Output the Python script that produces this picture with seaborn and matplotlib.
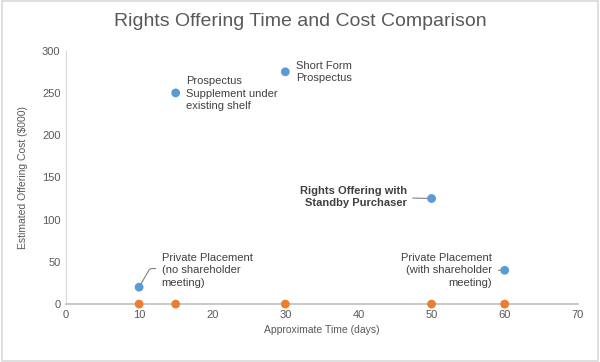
import numpy as np
import pandas as pd
import matplotlib
matplotlib.use("Agg")
import matplotlib.pyplot as plt
import seaborn as sns

# chart data
days = [10, 15, 30, 50, 60]
cost = [20, 250, 275, 125, 40]
base = [0, 0, 0, 0, 0]
labels = [
    "Private Placement\n(no shareholder\nmeeting)",
    "Prospectus\nSupplement under\nexisting shelf",
    "Short Form\nProspectus",
    "Rights Offering with\nStandby Purchaser",
    "Private Placement\n(with shareholder\nmeeting)",
]

df = pd.DataFrame({"days": days, "cost": cost, "base": base, "label": labels})

sns.set_style("white")
plt.rcParams["font.family"] = ["Liberation Sans", "DejaVu Sans"]

fig = plt.figure(figsize=(6, 3.62), dpi=100)
ax = fig.add_axes([0.11, 0.16, 0.853, 0.70])

sns.scatterplot(data=df, x="days", y="base", ax=ax, color="#ED7D31", s=40,
                edgecolor="none", zorder=3, clip_on=False)
sns.scatterplot(data=df, x="days", y="cost", ax=ax, color="#5B9BD5", s=40,
                edgecolor="none", zorder=3, clip_on=False)

ax.set_xlim(0, 70)
ax.set_ylim(0, 300)
ax.set_xticks(np.arange(0, 71, 10))
ax.set_yticks(np.arange(0, 301, 50))
ax.tick_params(axis="both", length=0, labelsize=8, labelcolor="#595959", pad=4)

for s in ["top", "right"]:
    ax.spines[s].set_visible(False)
ax.spines["left"].set_color("#D9D9D9")
ax.spines["bottom"].set_color("#BFBFBF")
ax.spines["bottom"].set_linewidth(1.2)

ax.set_xlabel("Approximate Time (days)", fontsize=7.5, color="#595959")
ax.set_ylabel("Estimated Offering Cost ($000)", fontsize=7.5, color="#595959",
              labelpad=10)
fig.suptitle("Rights Offering Time and Cost Comparison", fontsize=14,
             color="#595959", y=0.965)

txt = dict(fontsize=8, color="#404040", va="center", linespacing=1.3)
lead = dict(arrowstyle="-", color="#808080", lw=0.8, shrinkA=2, shrinkB=3)

# annotations
ax.annotate(df.label[0], xy=(df.days[0], df.cost[0]), xytext=(13.1, 40),
            ha="left",
            arrowprops=dict(lead, relpos=(0, 0.55),
                            connectionstyle="angle,angleA=180,angleB=60,rad=2"),
            **txt)
ax.annotate(df.label[1], xy=(df.days[1], df.cost[1]), xytext=(16.4, 249),
            ha="left", **txt)
ax.annotate(df.label[2], xy=(df.days[2], df.cost[2]), xytext=(31.5, 275),
            ha="left", **txt)
ax.annotate(df.label[3], xy=(df.days[3], df.cost[3]), xytext=(46.6, 127),
            ha="right", fontweight="bold",
            arrowprops=dict(lead, relpos=(1, 0.45)), **txt)
ax.annotate(df.label[4], xy=(df.days[4], df.cost[4]), xytext=(58.3, 40),
            ha="right", arrowprops=dict(lead, relpos=(1, 0.5)), **txt)

fig.patches.append(plt.Rectangle((0.003, 0.004), 0.994, 0.992, transform=fig.transFigure,
                                 fill=False, edgecolor="#D9D9D9", lw=1.2))

fig.savefig("out.png", dpi=100)
